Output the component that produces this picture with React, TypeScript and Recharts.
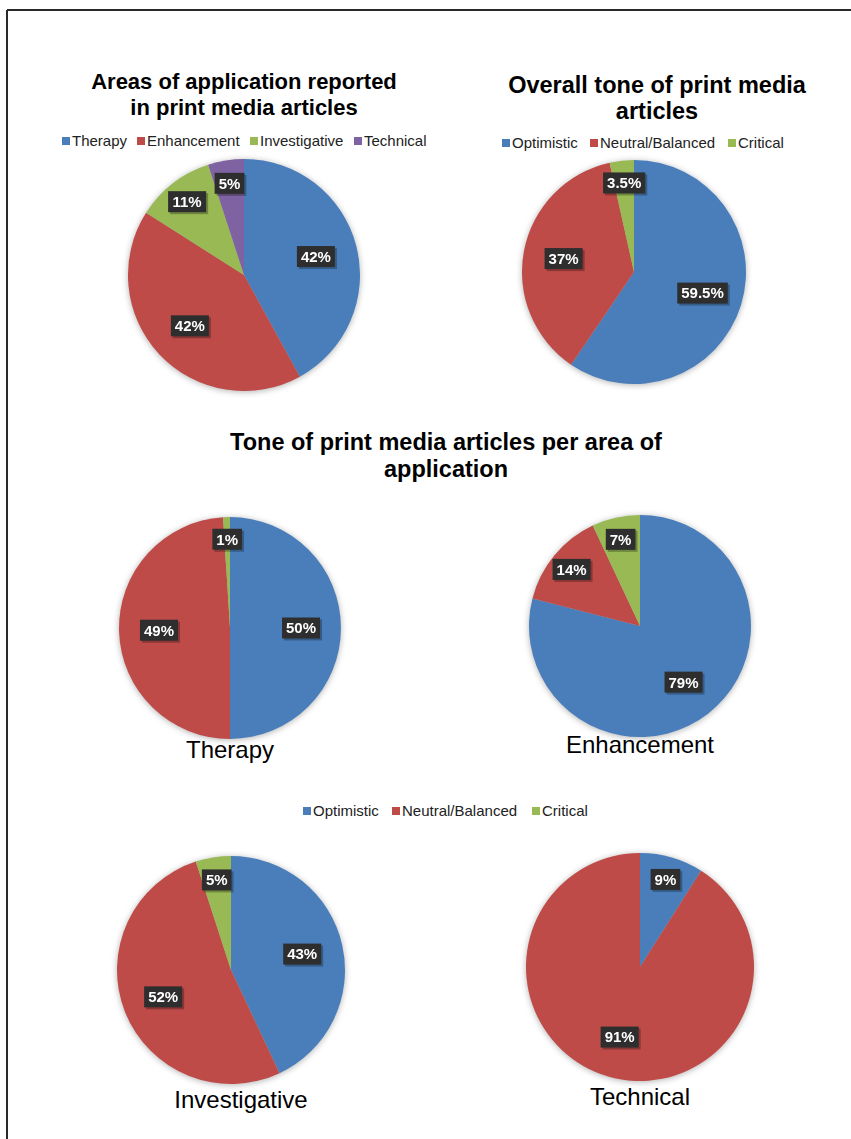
import React from 'react';
import { PieChart, Pie, Cell } from 'recharts';

// categories and values
const areaNames = ['Therapy', 'Enhancement', 'Investigative', 'Technical'];
const areaShares = [42, 42, 11, 5];

const toneNames = ['Optimistic', 'Neutral/Balanced', 'Critical'];
const overallTone = [59.5, 37, 3.5];
const therapyTone = [50, 49, 1];
const enhancementTone = [79, 14, 7];
const investigativeTone = [43, 52, 5];
const technicalTone = [9, 91, 0];

const COLORS = ['#4a7ebb', '#be4b48', '#98b954', '#7f62a1'];
const FONT = '"Liberation Sans", Arial, Helvetica, sans-serif';
const RAD = Math.PI / 180;

const toRows = (names: string[], values: number[]) =>
  names.map((name, i) => ({ name, value: values[i] }));

const charW: Record<string, number> = { '.': 0.278, '%': 0.889 };
const boxWidth = (s: string) =>
  s.split('').reduce((acc, c) => acc + (charW[c] ?? 0.556), 0) * 15 + 8;

function renderLabel(props: any) {
  const { cx, cy, midAngle, outerRadius, percent, value } = props;
  if (!value) return null;
  const k = percent < 0.15 ? 0.8 : 0.64;
  const r = outerRadius * k;
  const x = cx + r * Math.cos(-midAngle * RAD);
  const y = cy + r * Math.sin(-midAngle * RAD);
  const text = `${value}%`;
  const w = boxWidth(text);
  const h = 21;
  return (
    <g>
      <rect x={x - w / 2 + 2} y={y - h / 2 + 2} width={w} height={h} fill="rgba(0,0,0,0.28)" />
      <rect x={x - w / 2} y={y - h / 2} width={w} height={h} fill="#2e2e2e" />
      <text x={x} y={y} dy="0.36em" textAnchor="middle" fill="#fff" fontSize={15}
        fontWeight="bold" fontFamily={FONT}>{text}</text>
    </g>
  );
}

function PieBlock({ cx, cy, r, names, values }: { cx: number; cy: number; r: number; names: string[]; values: number[] }) {
  const size = 2 * r + 24;
  const data = toRows(names, values);
  return (
    <div style={{ position: 'absolute', left: cx - size / 2, top: cy - size / 2,
      filter: 'drop-shadow(0px 1px 3px rgba(0,0,0,0.3))' }}>
      <PieChart width={size} height={size} margin={{ top: 0, right: 0, bottom: 0, left: 0 }}>
        <Pie data={data} dataKey="value" nameKey="name" cx={size / 2} cy={size / 2}
          outerRadius={r} startAngle={90} endAngle={-270} stroke="none"
          labelLine={false} label={renderLabel} isAnimationActive={false}>
          {data.map((d, i) => <Cell key={d.name} fill={COLORS[i]} />)}
        </Pie>
      </PieChart>
    </div>
  );
}

function LegendRow({ names, xs, y }: { names: string[]; xs: number[]; y: number }) {
  return (
    <g>
      {names.map((n, i) => (
        <g key={n}>
          <rect x={xs[i]} y={y - 4} width={8} height={8} fill={COLORS[i]} />
          <text x={xs[i] + 10} y={y} dy="0.35em" fontSize={15} fill="#222" fontFamily={FONT}>{n}</text>
        </g>
      ))}
    </g>
  );
}

function Title({ lines, x, ys, size }: { lines: string[]; x: number; ys: number[]; size: number }) {
  return (
    <g>
      {lines.map((l, i) => (
        <text key={l} x={x} y={ys[i]} textAnchor="middle" fontSize={size} fontWeight="bold"
          fill="#000" fontFamily={FONT}>{l}</text>
      ))}
    </g>
  );
}

export default function App() {
  const captionStyle = { fontSize: 24, fill: '#000', fontFamily: FONT };
  return (
    <div style={{ position: 'absolute', left: 0, top: 0, width: 851, height: 1139,
      background: '#fff', overflow: 'hidden' }}>
      <svg width={851} height={1139} style={{ position: 'absolute', left: 0, top: 0 }}>
        <line x1={7} y1={10} x2={851} y2={10} stroke="#2a2a2a" strokeWidth={2} />
        <line x1={7} y1={10} x2={7} y2={1139} stroke="#2a2a2a" strokeWidth={2} />

        <Title lines={['Areas of application reported', 'in print media articles']} x={244} ys={[89, 115]} size={22} />
        <Title lines={['Overall tone of print media', 'articles']} x={657} ys={[93, 119]} size={23.5} />
        <Title lines={['Tone of print media articles per area of', 'application']} x={446} ys={[450, 477]} size={23.5} />

        <LegendRow names={areaNames} xs={[62, 137, 250, 354]} y={141} />
        <LegendRow names={toneNames} xs={[502, 590, 728]} y={143} />
        <LegendRow names={toneNames} xs={[303, 392, 532]} y={811} />

        <text x={230} y={758} textAnchor="middle" {...captionStyle}>Therapy</text>
        <text x={640} y={753} textAnchor="middle" {...captionStyle}>Enhancement</text>
        <text x={241} y={1108} textAnchor="middle" {...captionStyle}>Investigative</text>
        <text x={640} y={1105} textAnchor="middle" {...captionStyle}>Technical</text>
      </svg>

      <PieBlock cx={244} cy={275} r={116} names={areaNames} values={areaShares} />
      <PieBlock cx={634} cy={272} r={112} names={toneNames} values={overallTone} />
      <PieBlock cx={230} cy={628} r={111} names={toneNames} values={therapyTone} />
      <PieBlock cx={640} cy={626} r={111} names={toneNames} values={enhancementTone} />
      <PieBlock cx={231} cy={970} r={114} names={toneNames} values={investigativeTone} />
      <PieBlock cx={640} cy={967} r={114} names={toneNames} values={technicalTone} />
    </div>
  );
}
